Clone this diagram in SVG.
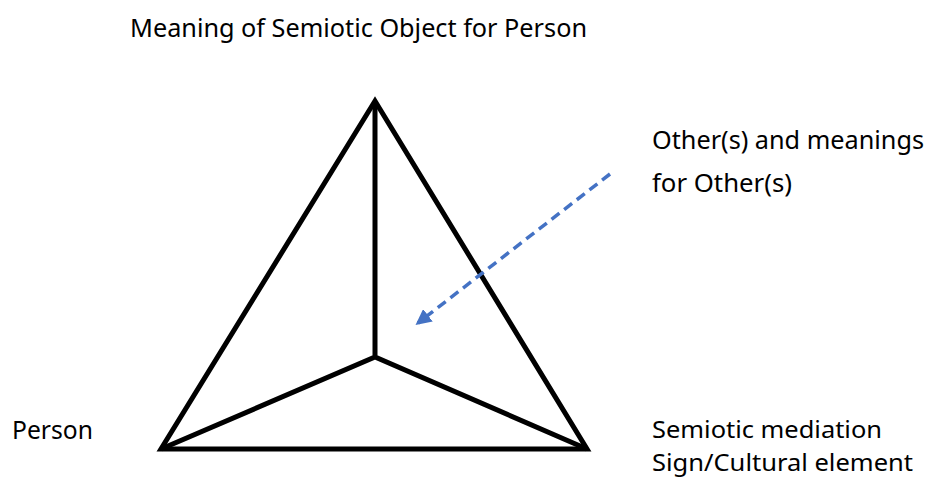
<svg xmlns="http://www.w3.org/2000/svg" width="939" height="478" viewBox="0 0 939 478">
<style>
text{font-family:"Noto Sans","Open Sans","Liberation Sans",sans-serif;font-size:26px;fill:#000}
.sm{font-size:24px}
.edge{stroke:#000;stroke-width:5;fill:none;stroke-linejoin:miter;stroke-linecap:butt}
.dash{stroke:#4472C4;stroke-width:3.5;stroke-dasharray:10 6;fill:none}
</style>
<defs>
<marker id="ah" viewBox="0 0 10 10" refX="8" refY="5" markerWidth="4.5" markerHeight="4.5" orient="auto" markerUnits="strokeWidth">
<path d="M0,0 L10,5 L0,10 z" fill="#4472C4"/>
</marker>
</defs>
<g id="tetrahedron">
<path class="edge" d="M375,101 L161,449 L587,449 Z"/>
<path class="edge" d="M375,101 L375,357 M161,449 L375,357 L587,449"/>
</g>
<g id="connectors">
<line class="dash" x1="610" y1="174" x2="418" y2="323" marker-end="url(#ah)"/>
</g>
<g id="meaning"><text x="130" y="37" textLength="457" lengthAdjust="spacingAndGlyphs">Meaning of Semiotic Object for Person</text></g>
<g id="others">
<text x="652" y="149" textLength="272" lengthAdjust="spacingAndGlyphs">Other(s) and meanings</text>
<text x="652" y="192" textLength="140" lengthAdjust="spacingAndGlyphs">for Other(s)</text>
</g>
<g id="person"><text x="12" y="439" textLength="81" lengthAdjust="spacingAndGlyphs">Person</text></g>
<g id="mediation">
<text class="sm" x="652" y="438" textLength="230" lengthAdjust="spacingAndGlyphs">Semiotic mediation</text>
<text class="sm" x="652" y="471" textLength="261" lengthAdjust="spacingAndGlyphs">Sign/Cultural element</text>
</g>
</svg>
